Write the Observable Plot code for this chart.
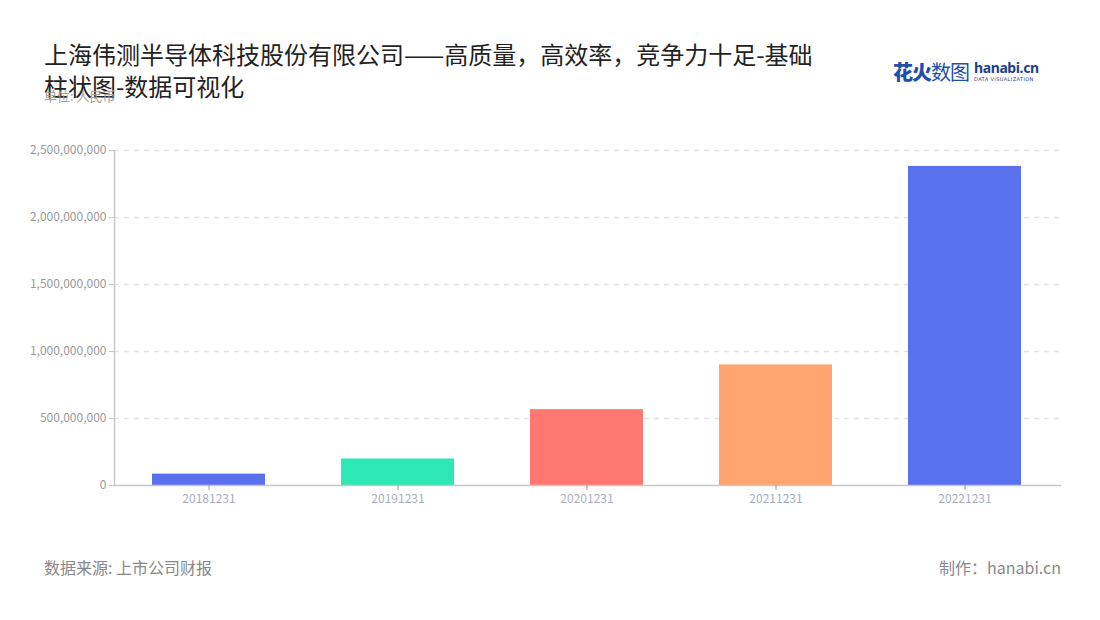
<!DOCTYPE html>
<html>
<head>
<meta charset="utf-8">
<script src="https://cdn.jsdelivr.net/npm/d3@7"></script>
<script src="https://cdn.jsdelivr.net/npm/@observablehq/plot@0.6"></script>
<style>
  html, body { margin: 0; padding: 0; background: #fff; }
  body { width: 1100px; height: 620px; position: relative; font-family: "Noto Sans CJK SC", "Noto Sans", sans-serif; overflow: hidden; }
  #title { position: absolute; left: 44px; top: 38px; font-size: 24px; line-height: 32px; color: #222; white-space: nowrap; }
  #unit { position: absolute; left: 44px; top: 86px; font-size: 13px; color: #a0a0a0; }
  #logo { position: absolute; left: 893px; top: 59px; display: flex; align-items: center; }
  #logo .cn { font-size: 20px; line-height: 26px; color: #1f4fa8; letter-spacing: -1px; }
  #logo .cn b { font-weight: 900; }
  #logo .en { margin-left: 5px; display: flex; flex-direction: column; }
  #logo .en .h { font-size: 14px; line-height: 14px; font-weight: 700; color: #1d3f8c; font-family: "Noto Sans", sans-serif; letter-spacing: -0.4px; }
  #logo .en .s { font-size: 5px; line-height: 7px; margin-top: 1px; color: #1d3f8c; letter-spacing: 0.4px; font-family: "DejaVu Sans", sans-serif; }
  #chart { position: absolute; left: 0; top: 130px; }
  .foot { position: absolute; top: 555px; font-size: 16px; color: #888; }
</style>
</head>
<body>
<div id="title">上海伟测半导体科技股份有限公司——高质量，高效率，竞争力十足-基础<br>柱状图-数据可视化</div>
<div id="unit">单位: 人民币</div>
<div id="logo"><span class="cn"><b>花火</b>数图</span><span class="en"><span class="h">hanabi.cn</span><span class="s">DATA VISUALIZATION</span></span></div>
<div id="chart"></div>
<div class="foot" style="left:44px">数据来源: 上市公司财报</div>
<div class="foot" style="right:39px">制作：hanabi.cn</div>
<script>
const dates = ["20181231", "20191231", "20201231", "20211231", "20221231"];
const values = [85000000, 198000000, 566000000, 900000000, 2381000000];
const colors = ["#5a71ee", "#2de8b2", "#ff7770", "#ffa46f", "#5a71ee"];
const yTicks = [0, 500000000, 1000000000, 1500000000, 2000000000, 2500000000];

const data = dates.map((d, i) => ({date: d, value: values[i], color: colors[i]}));

const plot = Plot.plot({
  width: 1100,
  height: 390,
  marginLeft: 114,
  marginRight: 40,
  marginTop: 20,
  marginBottom: 35,
  style: {fontFamily: '"Noto Sans CJK SC", "Noto Sans", sans-serif', fontSize: "12px", background: "transparent"},
  x: {domain: dates, paddingInner: 0.4, paddingOuter: 0.2, label: null},
  y: {domain: [0, 2500000000], label: null},
  marks: [
    Plot.ruleY(yTicks.filter(d => d > 0), {stroke: "#e3e3e3", strokeDasharray: "5,5", strokeWidth: 1.5}),
    Plot.barY(data, {x: "date", y: "value", fill: "color"}),
    Plot.frame({anchor: "left", stroke: "#c8c8c8", strokeWidth: 1.5}),
    Plot.frame({anchor: "bottom", stroke: "#c8c8c8", strokeWidth: 1.5}),
    Plot.axisY({ticks: yTicks, tickFormat: d3.format(","), tickSize: 5, tickPadding: 3, stroke: "#c8c8c8", fill: "#999", label: null}),
    Plot.axisX({tickSize: 5, tickPadding: 4, stroke: "#999", fill: "#a9aebd", label: null})
  ]
});
document.getElementById("chart").appendChild(plot);
</script>
</body>
</html>
